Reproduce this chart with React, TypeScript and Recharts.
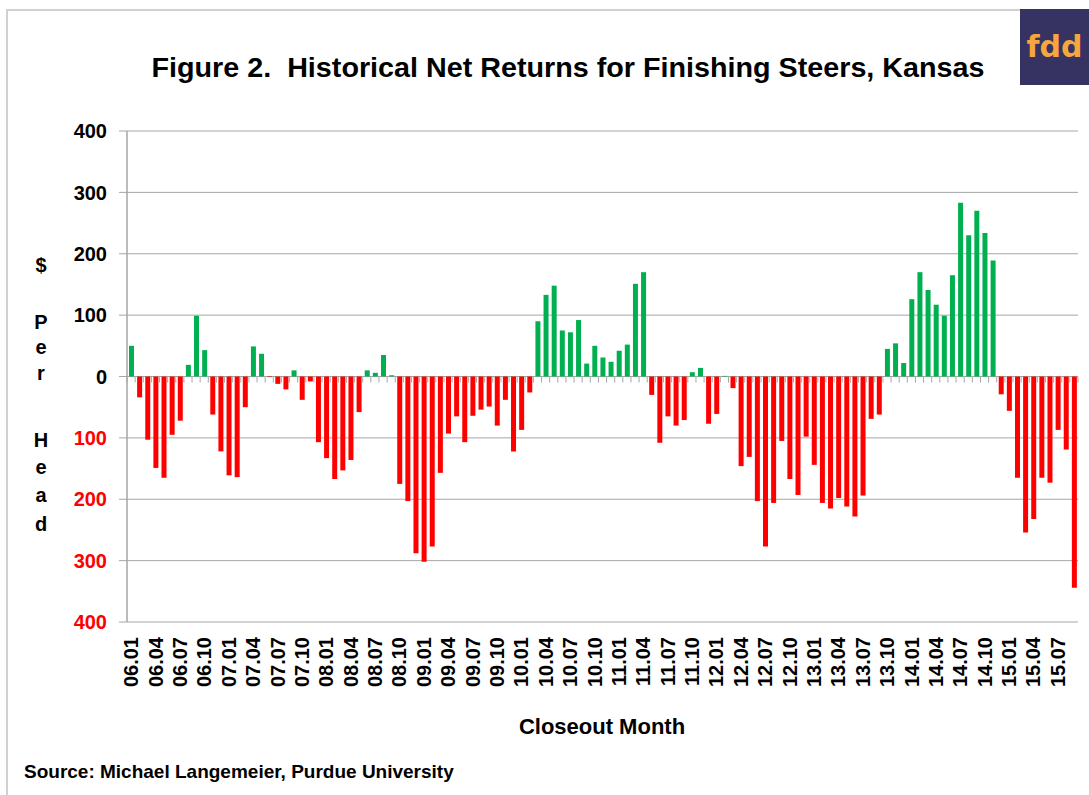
import React from 'react';
import { BarChart, Bar, XAxis, YAxis, CartesianGrid, Cell } from 'recharts';

const years = ['06', '07', '08', '09', '10', '11', '12', '13', '14', '15'];
const monthCodes = ['01', '02', '03', '04', '05', '06', '07', '08', '09', '10', '11', '12'];

const returns2006 = [50, -34, -103, -149, -165, -95, -72, 19, 99, 43, -62, -122];
const returns2007 = [-161, -164, -50, 49, 37, -1, -12, -21, 10, -38, -8, -107];
const returns2008 = [-133, -167, -153, -136, -58, 10, 6, 35, 2, -175, -203, -288];
const returns2009 = [-302, -277, -157, -93, -65, -107, -64, -54, -49, -80, -38, -122];
const returns2010 = [-87, -26, 90, 133, 148, 75, 72, 92, 21, 50, 31, 24];
const returns2011 = [42, 52, 151, 170, -30, -108, -65, -80, -71, 7, 14, -77];
const returns2012 = [-61, 1, -19, -146, -131, -203, -277, -206, -105, -167, -193, -98];
const returns2013 = [-144, -206, -215, -198, -212, -228, -194, -69, -62, 45, 54, 22];
const returns2014 = [126, 170, 141, 117, 99, 165, 283, 230, 270, 234, 189, -29];
const returns2015 = [-56, -165, -254, -232, -165, -173, -87, -119, -344];

const yearlyReturns = [
  returns2006, returns2007, returns2008, returns2009, returns2010,
  returns2011, returns2012, returns2013, returns2014, returns2015,
];

const yTicks = [-400, -300, -200, -100, 0, 100, 200, 300, 400];

const data = yearlyReturns.flatMap((vals, yi) =>
  vals.map((v, mi) => ({ month: `${years[yi]}.${monthCodes[mi]}`, value: v }))
);

const W = 1089;
const H = 795;
const PLOT_L = 127;
const PLOT_R = 1078;
const PLOT_T = 131;
const PLOT_B = 622;
const Y_AXIS_W = 120;
const X_AXIS_H = 100;
const BAND = (PLOT_R - PLOT_L) / data.length;
const ZERO_Y = (PLOT_T + PLOT_B) / 2;

const GREEN = '#00b050';
const RED = '#ff0000';
const GRID = '#a6a6a6';
const FONT = '"Liberation Sans", Arial, Helvetica, sans-serif';

function XTick(props: any) {
  const { x, index, payload } = props;
  const last = index === data.length - 1;
  const ly = PLOT_B + 15;
  return (
    <g>
      <line x1={x - BAND / 2} x2={x - BAND / 2} y1={ZERO_Y} y2={ZERO_Y + 6} stroke={GRID} strokeWidth={1} />
      {last && (
        <line x1={x + BAND / 2} x2={x + BAND / 2} y1={ZERO_Y} y2={ZERO_Y + 6} stroke={GRID} strokeWidth={1} />
      )}
      {index % 3 === 0 && (
        <text
          x={x}
          y={ly}
          transform={`rotate(-90 ${x} ${ly})`}
          textAnchor="end"
          dy="0.36em"
          fontFamily={FONT}
          fontWeight="bold"
          fontSize={20}
          fill="#000"
        >
          {payload.value}
        </text>
      )}
    </g>
  );
}

function YTick(props: any) {
  const { x, y, payload } = props;
  const v = payload.value as number;
  return (
    <text
      x={x}
      y={y}
      dy="0.36em"
      textAnchor="end"
      fontFamily={FONT}
      fontWeight="bold"
      fontSize={20}
      fill={v < 0 ? RED : '#000'}
    >
      {Math.abs(v)}
    </text>
  );
}

const yLabelLetters = [
  { ch: '$', y: 265 },
  { ch: 'P', y: 322 },
  { ch: 'e', y: 347 },
  { ch: 'r', y: 373 },
  { ch: 'H', y: 440 },
  { ch: 'e', y: 467 },
  { ch: 'a', y: 495 },
  { ch: 'd', y: 524 },
];

export default function App() {
  return (
    <div style={{ position: 'absolute', left: 0, top: 0, width: W, height: H, background: '#fff', overflow: 'hidden' }}>
      <div
        style={{
          position: 'absolute',
          left: 6,
          top: 9,
          width: W - 6,
          height: H - 9,
          borderLeft: '2px solid #d0d0d0',
          borderTop: '2px solid #d0d0d0',
          boxSizing: 'border-box',
        }}
      />
      <div style={{ position: 'absolute', left: 0, top: 0 }}>
        <BarChart
          width={W}
          height={H}
          data={data}
          margin={{ top: PLOT_T, right: W - PLOT_R, bottom: H - PLOT_B - X_AXIS_H, left: PLOT_L - Y_AXIS_W }}
        >
          <CartesianGrid horizontal vertical={false} stroke={GRID} strokeWidth={1} />
          <XAxis
            dataKey="month"
            interval={0}
            height={X_AXIS_H}
            axisLine={false}
            tickLine={false}
            tick={<XTick />}
          />
          <YAxis
            type="number"
            domain={[-400, 400]}
            ticks={yTicks}
            width={Y_AXIS_W}
            axisLine={{ stroke: GRID, strokeWidth: 1.5 }}
            tickLine={{ stroke: GRID }}
            tickSize={8}
            tickMargin={12}
            tick={<YTick />}
            interval={0}
          />
          <Bar dataKey="value" barSize={5} isAnimationActive={false}>
            {data.map((d, i) => (
              <Cell key={i} fill={d.value >= 0 ? GREEN : RED} />
            ))}
          </Bar>
        </BarChart>
      </div>
      <svg width={W} height={H} style={{ position: 'absolute', left: 0, top: 0, pointerEvents: 'none' }}>
        <text
          x={568}
          y={77}
          textAnchor="middle"
          fontFamily='"Liberation Sans Narrow", "Arial Narrow", "Liberation Sans", Arial, sans-serif'
          fontWeight="bold"
          fontSize={28}
          textLength={833}
          lengthAdjust="spacingAndGlyphs"
          fill="#000"
        >
          {'Figure 2.\u00a0 Historical Net Returns for Finishing Steers, Kansas'}
        </text>
        {yLabelLetters.map((l, i) => (
          <text
            key={i}
            x={41}
            y={l.y}
            dy="0.36em"
            textAnchor="middle"
            fontFamily={FONT}
            fontWeight="bold"
            fontSize={20}
            fill="#000"
          >
            {l.ch}
          </text>
        ))}
        <text x={602} y={726} dy="0.36em" textAnchor="middle" fontFamily={FONT} fontWeight="bold" fontSize={22} fill="#000">
          Closeout Month
        </text>
        <text x={24} y={771} dy="0.36em" textAnchor="start" fontFamily={FONT} fontWeight="bold" fontSize={19} fill="#000">
          Source: Michael Langemeier, Purdue University
        </text>
      </svg>
      <div
        style={{
          position: 'absolute',
          left: 1020,
          top: 9,
          width: 69,
          height: 76,
          background: '#363362',
          color: '#f7a53d',
          fontFamily: '"DejaVu Sans", "Open Sans", sans-serif',
          fontWeight: 'bold',
          fontSize: 30,
          lineHeight: '76px',
          textAlign: 'center',
          letterSpacing: 0,
        }}
      >
        fdd
      </div>
    </div>
  );
}
